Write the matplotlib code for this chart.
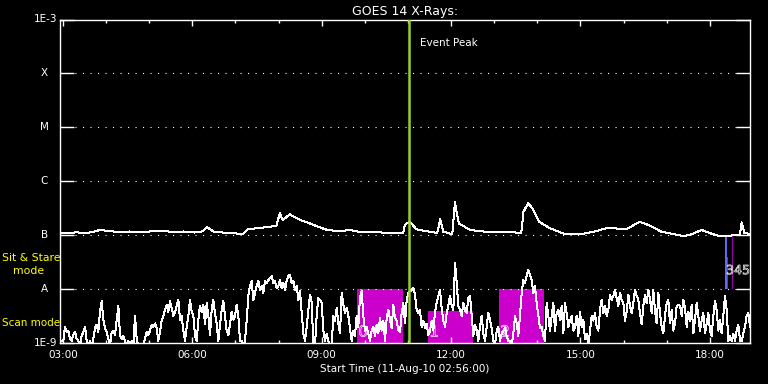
import numpy as np
import matplotlib
matplotlib.use("Agg")
import matplotlib.pyplot as plt
import matplotlib.patheffects as pe
from matplotlib.ticker import FixedLocator, MultipleLocator, FuncFormatter, NullLocator

# time axis in decimal UT hours
start_hour = 2 + 56 / 60
end_hour = start_hour + 16
event_peak = 11.02

# GOES long channel (1-8 A)
long_hours = [2.933, 3.10, 3.30, 3.55, 3.75, 3.86, 4.05, 4.30, 4.55, 4.80,
              5.05, 5.31, 5.55, 5.80, 6.05, 6.25, 6.34, 6.50, 6.70, 6.86,
              7.05, 7.17, 7.30, 7.50, 7.70, 7.85, 7.95, 8.03, 8.10, 8.26,
              8.40, 8.51, 8.72, 8.95, 9.13, 9.40, 9.65, 9.90, 10.17, 10.50,
              10.89, 10.93, 10.97, 11.05, 11.20, 11.51, 11.68, 11.75, 11.82, 12.03,
              12.09, 12.18, 12.44, 12.80, 13.27, 13.63, 13.68, 13.79, 13.89, 14.04,
              14.30, 14.61, 15.02, 15.30, 15.64, 16.06, 16.37, 16.57, 16.88, 17.40,
              17.60, 17.81, 18.02, 18.23, 18.64, 18.70, 18.74, 18.80, 18.93]
long_flux = [1.11e-7, 1.08e-7, 1.13e-7, 1.09e-7, 1.18e-7, 1.25e-7, 1.20e-7, 1.14e-7, 1.17e-7, 1.13e-7,
             1.18e-7, 1.22e-7, 1.14e-7, 1.17e-7, 1.12e-7, 1.18e-7, 1.41e-7, 1.16e-7, 1.12e-7, 1.10e-7,
             1.07e-7, 1.04e-7, 1.30e-7, 1.34e-7, 1.40e-7, 1.45e-7, 1.50e-7, 2.54e-7, 1.90e-7, 2.43e-7,
             2.10e-7, 1.90e-7, 1.66e-7, 1.40e-7, 1.25e-7, 1.18e-7, 1.25e-7, 1.14e-7, 1.16e-7, 1.10e-7,
             1.08e-7, 1.55e-7, 1.66e-7, 1.77e-7, 1.28e-7, 1.16e-7, 1.10e-7, 1.96e-7, 1.16e-7, 1.04e-7,
             4.06e-7, 1.66e-7, 1.25e-7, 1.16e-7, 1.16e-7, 1.10e-7, 2.72e-7, 3.89e-7, 3.14e-7, 1.77e-7,
             1.34e-7, 1.07e-7, 1.05e-7, 1.15e-7, 1.37e-7, 1.28e-7, 1.77e-7, 1.55e-7, 1.16e-7, 9.6e-8,
             1.05e-7, 1.25e-7, 1.08e-7, 9.6e-8, 1.00e-7, 1.00e-7, 1.73e-7, 1.10e-7, 1.05e-7]

# GOES short channel (0.5-4 A), units of 1e-9 W/m^2, evenly sampled
short_flux_nw = [
    1.1, 1.1, 1.1, 2.0, 1.6, 1.7, 1.2, 1.1, 1.4, 1.6,
    1.2, 1.1, 0.9, 1.35, 1.6, 2.0, 1.1, 0.9, 1.1, 0.9,
    1.2, 1.9, 2.2, 1.6, 3.9, 6.0, 2.7, 1.9, 1.6, 1.2,
    0.9, 1.6, 1.7, 1.4, 2.6, 4.9, 1.4, 1.2, 1.35, 1.1,
    0.9, 1.1, 0.9, 1.1, 0.9, 3.2, 1.2, 0.9, 0.9, 0.9,
    0.9, 1.2, 1.6, 1.4, 1.7, 2.2, 2.0, 2.3, 1.9, 1.1,
    1.6, 2.6, 3.2, 4.1, 5.1, 3.8, 6.0, 4.5, 3.2, 3.6,
    4.9, 6.3, 2.7, 3.2, 1.7, 1.1, 2.0, 3.2, 6.3, 3.8,
    3.2, 1.35, 1.1, 2.7, 4.9, 3.8, 5.1, 2.2, 5.5, 3.2,
    1.4, 4.1, 6.3, 3.6, 2.3, 1.1, 2.2, 4.1, 6.0, 3.2,
    1.7, 1.4, 2.2, 3.8, 2.7, 3.2,
    5.1, 3.2, 1.1, 1.1, 0.9, 1.1, 2.6, 7.5, 11.4, 14.1,
    6.3, 8.5, 11.4, 14.1, 9.6, 11.4, 8.5, 14.1, 13.0, 14.7,
    16.1, 17.5, 13.0, 14.1, 10.5, 11.4, 14.7, 10.5, 13.0, 9.6,
    14.1, 17.5, 18.3, 13.0, 14.1, 9.6, 11.4, 6.3, 9.2, 3.8,
    1.5, 1.1, 2.0, 4.1, 7.8, 5.8, 0.9, 0.9, 3.2, 6.8,
    6.3, 5.5, 1.7, 1.1, 1.5, 1.1, 0.9, 0.9, 3.2, 2.6,
    4.5, 2.3, 1.5, 8.5, 5.1, 3.6, 4.5, 3.2, 1.9, 1.1,
    1.7, 1.35, 3.2, 2.0, 7.1, 9.2, 3.2, 1.7, 2.0, 1.5,
    1.1, 1.7, 2.0, 1.35, 2.2, 1.5, 2.9, 1.7, 2.6, 1.1,
    2.9, 4.1, 2.7, 1.9, 5.1, 2.9, 2.6, 1.7, 1.6, 3.6,
    5.5, 2.3,
    6.3, 8.5, 9.2, 9.6, 10.5, 7.8, 4.1, 3.6, 4.1, 2.0,
    2.6, 1.9, 2.3, 1.4, 1.7, 2.6, 1.7, 3.8, 5.5, 7.5,
    9.6, 4.5, 2.6, 2.0, 3.6, 4.9, 7.5, 4.9, 4.1, 30.5,
    13.0, 4.9, 4.1, 3.2, 5.5, 4.1, 3.6, 6.8, 7.5, 3.2,
    1.35, 2.2, 1.7, 1.1, 2.0, 3.2, 1.5, 1.1, 2.0, 3.6,
    2.7, 1.9, 1.1, 0.9, 1.7, 2.0, 1.1, 1.5, 1.7, 1.9,
    1.35, 1.1, 1.1, 0.9, 1.5, 3.2, 2.3, 1.35, 3.2, 8.5,
    14.7, 13.0, 17.5, 22.7, 18.3, 14.7, 8.5, 11.4, 5.5, 3.2,
    1.9, 2.0, 1.35, 1.1, 5.5, 3.2, 1.7, 3.2, 5.5, 1.7,
    3.6, 4.1, 2.7, 4.9, 1.5, 5.5, 3.6, 2.0, 2.6, 3.2,
    1.7, 2.0,
    3.2, 1.35, 3.8, 2.0, 2.7, 1.2, 1.5, 0.9, 1.7, 3.2,
    2.6, 3.6, 2.0, 1.7, 4.1, 6.3, 3.6, 4.9, 3.2, 4.1,
    7.8, 6.3, 7.5, 9.6, 6.8, 4.9, 8.5, 6.3, 5.5, 2.6,
    3.8, 7.8, 4.9, 3.6, 5.5, 9.6, 7.5, 6.3, 3.6, 2.2,
    4.9, 7.8, 5.5, 9.6, 6.3, 3.6, 9.6, 4.1, 2.3, 8.5,
    3.6, 2.0, 1.5, 3.2, 5.5, 6.3, 2.3, 4.1, 1.7, 2.3,
    4.9, 5.1, 4.9, 3.2, 6.3, 4.5, 2.0, 3.8, 2.6, 5.1,
    1.5, 2.7, 5.5, 3.2, 1.7, 2.6, 3.6, 1.5, 2.3, 3.6,
    1.7, 1.35, 3.2, 6.0, 4.1, 1.7, 2.7, 1.5, 3.2, 7.5,
    4.1, 1.1, 1.35, 1.1, 1.5, 1.1, 1.7, 2.2, 1.1, 1.1,
    1.5, 2.0, 3.2, 3.6, 2.0,
]

# observation boxes
box_start = [9.83, 11.475, 13.12, 18.36, 18.395, 18.522, 18.583]
box_end = [10.89, 12.515, 14.16, 18.39, 18.43, 18.535, 18.596]
box_low = [1e-9, 1e-9, 1e-9, 1e-8, 1e-8, 1e-8, 1e-8]
box_high = [1e-8, 4e-9, 1e-8, 1e-7, 4e-8, 1e-7, 4e-8]
box_color = ["#cc00cc", "#cc00cc", "#cc00cc", "#6464ff", "#cc00cc", "#9900aa", "#cc00cc"]
# the last three labels sit on top of each other, drawn as one string
box_label = ["0", "1", "2", "345", "", "", ""]
box_label_y = [1.6e-9, 1.6e-9, 1.6e-9, 2.2e-8, 2.2e-8, 2.2e-8, 2.2e-8]
box_label_size = [11, 11, 11, 9, 9, 9, 9]

level_values = [1e-3, 1e-4, 1e-5, 1e-6, 1e-7, 1e-8, 1e-9]
level_names = ["1E-3", "X", "M", "C", "B", "A", "1E-9"]

plt.rcParams["font.family"] = ["DejaVu Sans"]

fig = plt.figure(figsize=(7.68, 3.84), dpi=100, facecolor="black")
ax = fig.add_axes([60 / 768, 1 - 343 / 384, 690 / 768, 323.5 / 384])
ax.set_facecolor("black")
ax.set_yscale("log")
ax.set_xlim(start_hour, end_hour)
ax.set_ylim(1e-9, 1e-3)

for s in ax.spines.values():
    s.set_color("white")
    s.set_linewidth(1.0)

# dotted level lines
for v in level_values[1:-1]:
    ax.axhline(v, color="white", lw=0.8, ls=(0, (1, 5.75)), zorder=2)

# boxes
for x0, x1, y0, y1, c in zip(box_start, box_end, box_low, box_high, box_color):
    ax.fill_between([x0, x1], [y0, y0], [y1, y1], color=c, lw=0, zorder=1)

short_hours = np.linspace(start_hour, end_hour, len(short_flux_nw))
short_flux = np.array(short_flux_nw) * 1e-9
ax.plot(short_hours, short_flux, color="white", lw=0.72, zorder=3, antialiased=False)
ax.plot(long_hours, long_flux, color="white", lw=0.72, zorder=3, antialiased=False)

ax.axvline(event_peak, color="#9acd32", lw=1.8, zorder=4)
ax.text(11.28, 3.6e-4, "Event Peak", color="white", fontsize=7.5,
        ha="left", va="center")

outline = [pe.Stroke(linewidth=0.5, foreground="white")]
for x0, lab, ly, fs in zip(box_start, box_label, box_label_y, box_label_size):
    if lab:
        ax.text(x0 + 0.02, ly, lab, color="none", fontsize=fs, ha="left",
                va="center", path_effects=outline, zorder=5)

# ticks
ax.xaxis.set_major_locator(FixedLocator([3, 6, 9, 12, 15, 18]))
ax.xaxis.set_minor_locator(MultipleLocator(1))
ax.xaxis.set_major_formatter(FuncFormatter(lambda h, p: f"{int(round(h)):02d}:00"))
ax.tick_params(axis="x", which="major", direction="in", length=4, width=1,
               colors="white", top=True, labelsize=7.5, pad=5)
ax.tick_params(axis="x", which="minor", direction="in", length=2.2, width=1,
               colors="white", top=True)
ax.yaxis.set_major_locator(FixedLocator(level_values))
ax.yaxis.set_minor_locator(NullLocator())
ax.tick_params(axis="y", which="major", direction="in", length=10, width=1,
               colors="white", right=True, labelleft=False)

ytr = ax.get_yaxis_transform()
for v, name in zip(level_values, level_names):
    if name.startswith("1E"):
        ax.text(-0.004, v, name, transform=ytr, color="white", fontsize=7.5,
                ha="right", va="center")
    else:
        ax.text(-0.023, v, name, transform=ytr, color="white", fontsize=7.5,
                ha="center", va="center")

ax.set_title("GOES 14 X-Rays:", color="white", fontsize=9, pad=3)
ax.set_xlabel("Start Time (11-Aug-10 02:56:00)", color="white", fontsize=7.5,
              labelpad=3)

fig.text(2 / 768, 1 - 258 / 384, "Sit & Stare", color="yellow", fontsize=7.8,
         ha="left", va="center")
fig.text(13 / 768, 1 - 271 / 384, "mode", color="yellow", fontsize=7.8,
         ha="left", va="center")
fig.text(2 / 768, 1 - 323 / 384, "Scan mode", color="yellow", fontsize=7.5,
         ha="left", va="center")

fig.savefig("out.png", dpi=100, facecolor="black")
